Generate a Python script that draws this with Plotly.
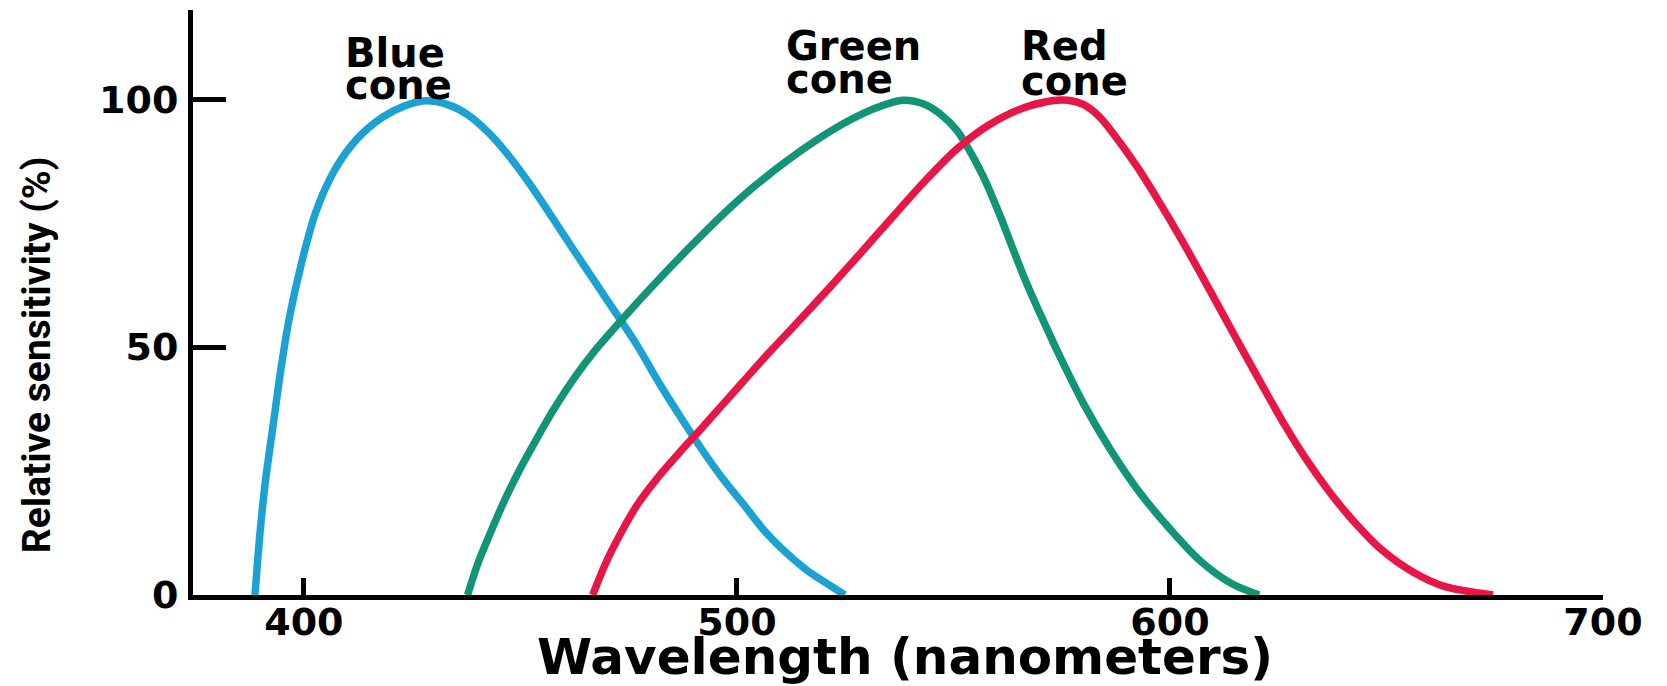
import plotly.graph_objects as go

# ---- data ----
blue_wl = [388.7, 389.9, 391.2, 392.9, 394.6, 396.6, 399.3, 402.7, 407.1, 412.5, 418.2, 423.1, 428.0,
           432.9, 437.8, 442.7, 447.6, 452.5, 457.4, 462.3, 467.2, 472.1, 477.0, 482.0, 486.9, 491.8,
           496.7, 501.6, 506.5, 511.4, 516.3, 521.2, 524.9]
blue_val = [0, 12.8, 23.5, 34.2, 45.0, 55.7, 66.4, 77.1, 85.7, 92.2, 96.4, 98.6, 99.7,
            99.0, 96.9, 93.2, 88.3, 82.5, 76.1, 69.6, 63.2, 56.8, 50.3, 42.8, 36.0, 29.5,
            23.5, 18.2, 12.8, 8.5, 4.9, 2.1, 0]

green_wl = [437.8, 440.2, 443.2, 446.4, 450.1, 453.7, 457.4, 462.3, 467.2, 474.1, 482.0, 489.3, 496.7,
            504.0, 511.4, 518.8, 526.1, 532.2, 538.4, 543.3, 547.0, 550.7, 553.1, 556.8, 560.5, 564.1,
            566.6, 570.3, 575.2, 580.1, 586.2, 592.4, 599.7, 607.1, 614.4, 620.6]
green_val = [0, 6.4, 12.8, 19.2, 25.7, 31.4, 37.0, 43.6, 49.3, 56.2, 63.7, 70.3, 76.7,
             82.4, 87.5, 92.0, 95.8, 98.3, 99.8, 99.0, 97.0, 93.8, 90.6, 84.6, 77.1, 69.0,
             63.5, 56.2, 47.0, 38.5, 29.4, 21.4, 13.6, 6.8, 2.2, 0]

red_wl = [466.7, 469.7, 473.4, 477.0, 482.0, 486.9, 491.8, 496.7, 501.6, 506.5, 513.8, 521.2, 528.6,
          535.9, 543.3, 550.7, 558.0, 565.4, 572.7, 576.4, 580.1, 583.8, 587.5, 592.4, 597.3, 602.2,
          607.1, 612.0, 616.9, 621.8, 626.7, 631.6, 636.5, 641.4, 648.8, 656.2, 663.5, 674.6]
red_val = [0, 6.4, 12.8, 18.2, 24.0, 28.9, 33.6, 38.4, 43.2, 48.0, 54.8, 61.8, 69.0,
           76.2, 83.4, 89.9, 94.7, 98.0, 99.7, 99.8, 98.9, 96.4, 92.4, 86.4, 79.6, 72.4,
           64.8, 57.0, 49.2, 41.5, 34.0, 27.2, 21.2, 15.9, 9.2, 4.6, 1.7, 0]

x_tick_vals = [400, 500, 600, 700]
x_tick_marks = [400, 500, 600]
y_tick_vals = [0, 50, 100]

# (first line, second line, left wavelength, y of first line, y of second line)
cone_labels = [("Blue", "cone", 409.0, 109.4, 102.8),
               ("Green", "cone", 510.8, 110.8, 104.1),
               ("Red", "cone", 565.2, 110.8, 103.6)]

BLUE = "rgb(28,162,210)"
GREEN = "rgb(18,148,118)"
RED = "rgb(232,22,70)"
LW = 7.5

fig = go.Figure()
for wl, val, col in [(blue_wl, blue_val, BLUE), (green_wl, green_val, GREEN), (red_wl, red_val, RED)]:
    fig.add_trace(go.Scatter(x=wl, y=val, mode="lines",
                             line=dict(color=col, width=LW, shape="spline", smoothing=0.8),
                             showlegend=False, hoverinfo="skip"))

TICKFONT = dict(family="DejaVu Sans", size=38, color="black", weight="bold")
LABFONT = dict(family="DejaVu Sans", size=40, color="black", weight="bold")

fig.update_layout(
    width=1667, height=686,
    margin=dict(l=193, r=64, t=10, b=91, autoexpand=False),
    paper_bgcolor="white", plot_bgcolor="white",
    xaxis=dict(range=[374.4, 700], showgrid=False, zeroline=False, automargin=False,
               showline=True, linecolor="black", linewidth=5,
               tickvals=x_tick_vals, ticktext=[str(v) for v in x_tick_vals],
               ticks="", ticklabelstandoff=-11, tickfont=TICKFONT),
    xaxis2=dict(range=[374.4, 700], overlaying="x", side="bottom", showgrid=False,
                zeroline=False, showline=False, tickvals=x_tick_marks, automargin=False,
                showticklabels=False, ticks="inside", ticklen=17, tickwidth=5,
                tickcolor="black", anchor="y"),
    yaxis=dict(range=[0, 118], showgrid=False, zeroline=False, automargin=False,
               showline=True, linecolor="black", linewidth=5,
               tickvals=y_tick_vals, ticktext=[str(v) for v in y_tick_vals],
               ticks="inside", ticklen=33, tickwidth=5, tickcolor="black",
               ticklabelstandoff=2, tickfont=TICKFONT),
)
fig.add_trace(go.Scatter(x=[None], y=[None], xaxis="x2", showlegend=False, hoverinfo="skip"))

annotations = []
for top, bottom, xl, ytop, ybot in cone_labels:
    annotations.append(dict(x=xl, y=ytop, xref="x", yref="y", text=top, showarrow=False,
                            xanchor="left", yanchor="middle", font=LABFONT))
    annotations.append(dict(x=xl, y=ybot, xref="x", yref="y", text=bottom, showarrow=False,
                            xanchor="left", yanchor="middle", font=LABFONT))

annotations.append(dict(x=0.505, y=-0.106, xref="paper", yref="paper",
                        text="Wavelength (nanometers)", showarrow=False,
                        xanchor="center", yanchor="middle",
                        font=dict(family="DejaVu Sans", size=50, color="black", weight="bold")))
annotations.append(dict(x=-0.1106, y=0.410, xref="paper", yref="paper",
                        text="Relative sensitivity (%)", showarrow=False, textangle=-90,
                        xanchor="center", yanchor="middle",
                        font=dict(family="Roboto", size=39, color="black", weight="bold")))
fig.update_layout(annotations=annotations)

fig.write_html("out.html", config={"displayModeBar": False},
               post_script="document.body.style.margin='0px';")
